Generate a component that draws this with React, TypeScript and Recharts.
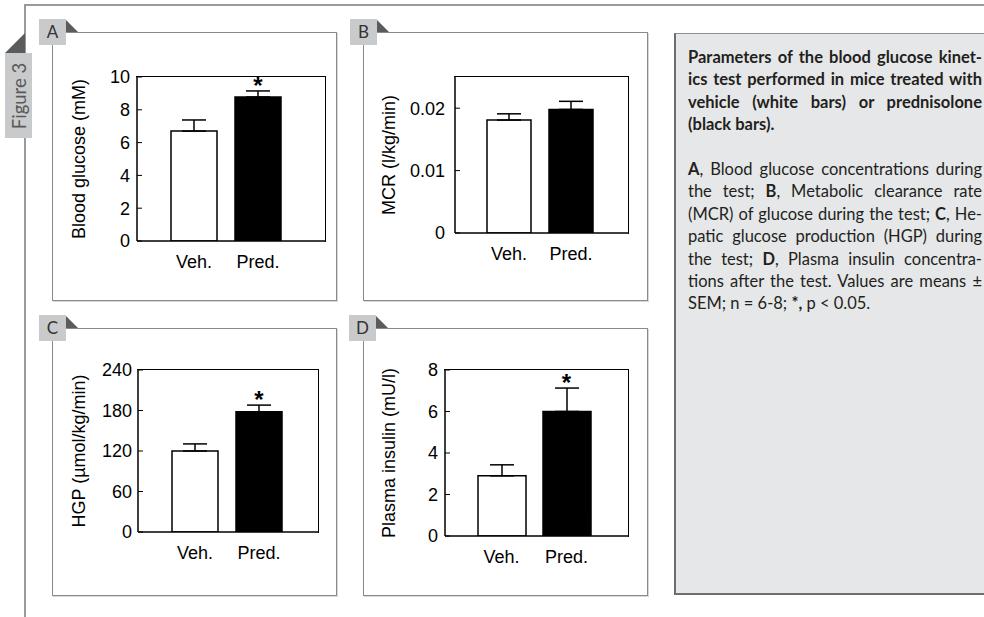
import React from "react";
import { BarChart, Bar, XAxis, YAxis, ErrorBar, ReferenceDot, Cell } from "recharts";

const groups = ["Veh.", "Pred."];
const barFills = ["#ffffff", "#000000"];

const glucose = [6.7, 8.78];
const glucoseSem = [0.68, 0.37];
const glucoseSig = [false, true];
const glucoseTicks = [0, 2, 4, 6, 8, 10];

const mcr = [0.0181, 0.0198];
const mcrSem = [0.001, 0.0013];
const mcrSig = [false, false];
const mcrTicks = [0, 0.01, 0.02];

const hgp = [120, 178];
const hgpSem = [10.5, 10];
const hgpSig = [false, true];
const hgpTicks = [0, 60, 120, 180, 240];

const insulin = [2.9, 6.0];
const insulinSem = [0.53, 1.13];
const insulinSig = [false, true];
const insulinTicks = [0, 2, 4, 6, 8];

const AX_FONT = "'Liberation Sans', Arial, sans-serif";
const TXT_FONT = "Lato, 'Open Sans', sans-serif";

type PanelProps = {
  plot: { x: number; y: number; w: number; h: number };
  yw: number;
  pad: { left: number; right: number };
  barSize: number;
  domain: [number, number];
  ticks: number[];
  values: number[];
  sems: number[];
  sig: boolean[];
  ylabel: string;
  tickGap: number;
};

function Panel({ plot, yw, pad, barSize, domain, ticks, values, sems, sig, ylabel, tickGap }: PanelProps) {
  const data = groups.map((g, i) => ({ group: g, value: values[i], err: [0, sems[i]] }));
  const top = 20;
  const xh = 45;
  const right = 10;
  return (
    <div style={{ position: "absolute", left: plot.x - yw, top: plot.y - top }}>
      <BarChart
        width={yw + plot.w + right}
        height={top + plot.h + xh}
        data={data}
        margin={{ top, right, bottom: 0, left: 0 }}
      >
        <XAxis
          dataKey="group"
          height={xh}
          padding={pad}
          tickLine={false}
          tickSize={0}
          tickMargin={14}
          axisLine={{ stroke: "#000", strokeWidth: 1.5 }}
          tick={{ fill: "#000", fontSize: 18, fontFamily: AX_FONT }}
          interval={0}
        />
        <YAxis
          domain={domain}
          ticks={ticks}
          interval={0}
          width={yw}
          tickSize={-5}
          tickMargin={5 + tickGap}
          tickLine={{ stroke: "#000", strokeWidth: 1 }}
          axisLine={{ stroke: "#000", strokeWidth: 1.5 }}
          tick={{ fill: "#000", fontSize: 18, fontFamily: AX_FONT }}
          allowDataOverflow
          label={{ value: ylabel, angle: -90, position: "center", fill: "#000", fontSize: 18, fontFamily: AX_FONT }}
        />
        <Bar dataKey="value" barSize={barSize} stroke="#000" strokeWidth={1.5} isAnimationActive={false}>
          {data.map((d, i) => (
            <Cell key={d.group} fill={barFills[i]} />
          ))}
          <ErrorBar dataKey="err" direction="y" width={12} stroke="#000" strokeWidth={1.5} isAnimationActive={false} />
        </Bar>
        {sig.map((s, i) =>
          s ? (
            <ReferenceDot
              key={groups[i]}
              x={groups[i]}
              y={values[i] + sems[i]}
              r={0}
              fill="none"
              stroke="none"
              ifOverflow="visible"
              label={{ value: "*", position: "top", offset: -3, fill: "#000", fontSize: 24, fontWeight: "bold", fontFamily: AX_FONT }}
            />
          ) : null
        )}
      </BarChart>
      {/* closing top and right edges of the plot box */}
      <div
        style={{
          position: "absolute",
          left: yw - 0.75,
          top: top - 0.75,
          width: plot.w + 1.5,
          height: plot.h + 1.5,
          boxSizing: "border-box",
          borderTop: "1.5px solid #000",
          borderRight: "1.5px solid #000",
          pointerEvents: "none",
        }}
      />
    </div>
  );
}

function Frame({ x, y, w, h, letter, lx }: { x: number; y: number; w: number; h: number; letter: string; lx: number }) {
  return (
    <>
      <div
        style={{
          position: "absolute",
          left: x,
          top: y,
          width: w,
          height: h,
          boxSizing: "border-box",
          border: "1.5px solid #8a8a8a",
          boxShadow: "1px 1px 0 #d8d8d8",
        }}
      />
      <div
        style={{
          position: "absolute",
          left: lx + 27,
          top: y - 12,
          width: 0,
          height: 0,
          borderLeft: "12px solid #5a5b5d",
          borderTop: "12px solid transparent",
        }}
      />
      <div
        style={{
          position: "absolute",
          left: lx,
          top: y - 13,
          width: 27,
          height: 26,
          background: "#c9cacc",
          color: "#333",
          fontFamily: TXT_FONT,
          fontSize: 17,
          lineHeight: "26px",
          textAlign: "center",
        }}
      >
        {letter}
      </div>
    </>
  );
}

const titleLines = [
  "Parameters of the blood glucose kinet-",
  "ics test performed in mice treated with",
  "vehicle (white bars) or prednisolone",
  "(black bars).",
];

const bodyLines: [string, boolean][][] = [
  [["A", true], [", Blood glucose concentrations during", false]],
  [["the test; ", false], ["B", true], [", Metabolic clearance rate", false]],
  [["(MCR) of glucose during the test; ", false], ["C", true], [", He-", false]],
  [["patic glucose production (HGP) during", false]],
  [["the test; ", false], ["D", true], [", Plasma insulin concentra-", false]],
  [["tions after the test. Values are means ±", false]],
  [["SEM; n = 6-8; ", false], ["*,", true], [" p < 0.05.", false]],
];

function Line({ children, last }: { children: React.ReactNode; last?: boolean }) {
  return (
    <div
      style={{
        height: 22.4,
        lineHeight: "22.4px",
        whiteSpace: "nowrap",
        textAlign: last ? "left" : "justify",
        textAlignLast: last ? "left" : "justify",
      }}
    >
      {children}
    </div>
  );
}

export default function App() {
  return (
    <div style={{ position: "absolute", left: 0, top: 0, width: 984, height: 617, overflow: "hidden", background: "#fff" }}>
      {/* outer page frame */}
      <div style={{ position: "absolute", left: 25, top: 4, width: 970, height: 2, background: "#9a9a9a" }} />
      <div style={{ position: "absolute", left: 24, top: 4, width: 2, height: 620, background: "#9a9a9a" }} />
      <div
        style={{
          position: "absolute",
          left: 5,
          top: 33,
          width: 0,
          height: 0,
          borderRight: "20px solid #5a5b5d",
          borderTop: "20px solid transparent",
        }}
      />
      <div style={{ position: "absolute", left: 5, top: 53, width: 27, height: 85, background: "#c9cacc" }}>
        <div
          style={{
            position: "absolute",
            left: 13.5,
            top: 42.5,
            transform: "translate(-50%, -50%) rotate(-90deg)",
            whiteSpace: "nowrap",
            fontFamily: TXT_FONT,
            fontSize: 18.5,
            color: "#58595b",
          }}
        >
          Figure 3
        </div>
      </div>

      <Frame x={52} y={32} w={285} h={269} letter="A" lx={39} />
      <Frame x={363} y={32} w={285} h={269} letter="B" lx={350} />
      <Frame x={52} y={328} w={285} h={268} letter="C" lx={39} />
      <Frame x={363} y={328} w={285} h={268} letter="D" lx={349} />

      <Panel
        plot={{ x: 137, y: 77, w: 188, h: 164 }}
        yw={116}
        pad={{ left: 25, right: 35 }}
        barSize={46}
        domain={[0, 10]}
        ticks={glucoseTicks}
        values={glucose}
        sems={glucoseSem}
        sig={glucoseSig}
        ylabel="Blood glucose (mM)"
        tickGap={7}
      />
      <Panel
        plot={{ x: 455, y: 77, w: 173, h: 156 }}
        yw={132}
        pad={{ left: 23, right: 26 }}
        barSize={44}
        domain={[0, 0.025]}
        ticks={mcrTicks}
        values={mcr}
        sems={mcrSem}
        sig={mcrSig}
        ylabel="MCR (l/kg/min)"
        tickGap={10}
      />
      <Panel
        plot={{ x: 138, y: 370, w: 180, h: 162 }}
        yw={118}
        pad={{ left: 25, right: 27 }}
        barSize={46}
        domain={[0, 240]}
        ticks={hgpTicks}
        values={hgp}
        sems={hgpSem}
        sig={hgpSig}
        ylabel="HGP (µmol/kg/min)"
        tickGap={6}
      />
      <Panel
        plot={{ x: 445, y: 370, w: 183, h: 166 }}
        yw={112}
        pad={{ left: 24, right: 29 }}
        barSize={48}
        domain={[0, 8]}
        ticks={insulinTicks}
        values={insulin}
        sems={insulinSem}
        sig={insulinSig}
        ylabel="Plasma insulin (mU/l)"
        tickGap={7}
      />

      {/* caption box */}
      <div
        style={{
          position: "absolute",
          left: 674,
          top: 33,
          width: 320,
          height: 562,
          boxSizing: "border-box",
          background: "#e6e7e8",
          borderTop: "1.5px solid #8f9092",
          borderLeft: "2px solid #6d6e71",
          borderBottom: "2px solid #6d6e71",
        }}
      />
      <div
        style={{
          position: "absolute",
          left: 688,
          top: 46,
          width: 294,
          fontFamily: TXT_FONT,
          fontSize: 16.5,
          color: "#231f20",
        }}
      >
        {titleLines.map((t, i) => (
          <Line key={i} last={i === titleLines.length - 1}>
            <b>{t}</b>
          </Line>
        ))}
        <div style={{ height: 22.4 }} />
        {bodyLines.map((segs, i) => (
          <Line key={i} last={i === bodyLines.length - 1}>
            {segs.map(([s, bold], j) => (bold ? <b key={j}>{s}</b> : <span key={j}>{s}</span>))}
          </Line>
        ))}
      </div>
    </div>
  );
}
